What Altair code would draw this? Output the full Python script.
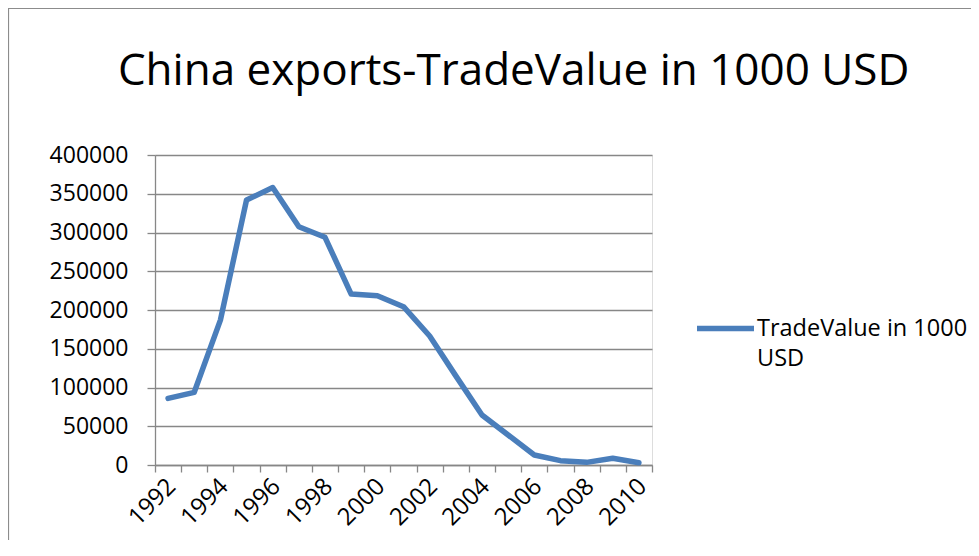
import altair as alt
import pandas as pd

years = [str(y) for y in range(1992, 2011)]
values = [86000, 93800, 187000, 342000, 358000, 307500, 293800, 220600, 218500,
          204300, 166400, 115000, 64500, 38700, 12900, 5600, 3400, 8600, 3000]
series_name = "TradeValue in 1000 USD"
y_ticks = [0, 50000, 100000, 150000, 200000, 250000, 300000, 350000, 400000]

df = pd.DataFrame({"Year": years, "Value": values, "Series": [series_name] * len(years)})

FONT = "Open Sans"
BLUE = "#4a7ebb"
GRAY = "#878787"

line = alt.Chart(df).mark_line(strokeWidth=5.5, strokeCap="round", strokeJoin="round").encode(
    x=alt.X("Year:O", sort=years,
            scale=alt.Scale(type="band", paddingInner=0, paddingOuter=0),
            axis=alt.Axis(title=None, labelAngle=-45, tickBand="extent",
                          labelExpr="toNumber(datum.label) % 2 == 0 ? datum.label : ''",
                          labelFont=FONT, labelFontSize=24, labelColor="#000000",
                          labelPadding=2, labelOffset=-5, tickSize=7, tickColor=GRAY,
                          tickWidth=1.3, domainColor=GRAY, domainWidth=1.3, grid=False,
                          labelOverlap=False)),
    y=alt.Y("Value:Q",
            scale=alt.Scale(domain=[0, 400000], nice=False),
            axis=alt.Axis(title=None, values=y_ticks, format="d",
                          labelFont=FONT, labelFontSize=23, labelColor="#000000",
                          labelPadding=19, tickSize=8, tickColor=GRAY, tickWidth=1.3,
                          domainColor=GRAY, domainWidth=1.3,
                          grid=True, gridColor=GRAY, gridWidth=1.3)),
    color=alt.Color("Series:N", scale=alt.Scale(range=[BLUE]),
                    legend=alt.Legend(title=None, orient="none", legendX=539, legendY=142,
                                      symbolType="M-1,0H1", symbolSize=3249,
                                      symbolStrokeWidth=5.5, symbolStrokeColor=BLUE,
                                      labelExpr="['TradeValue in 1000', 'USD']",
                                      labelFont=FONT, labelFontSize=23.5, labelColor="#000000",
                                      labelLimit=400, labelOffset=0)),
)

border = alt.Chart(pd.DataFrame({"a": [0]})).mark_rect(
    fill=None, stroke="#8c8c8c", strokeWidth=1.2
).encode(
    x=alt.value(-146.5), y=alt.value(-146.5), x2=alt.value(900), y2=alt.value(600)
)

chart = alt.layer(border, line).properties(
    width=497, height=310,
    title=alt.TitleParams("China exports-TradeValue in 1000 USD", font=FONT, fontSize=44,
                          fontWeight="normal", color="#000000", anchor="start",
                          dx=110, dy=86, offset=0),
    autosize=alt.AutoSizeParams(type="none"),
    padding={"left": 147, "top": 147, "right": 319, "bottom": 75},
).configure_view(stroke=None).configure(
    background="white", style={"guide-label": {"lineHeight": 30}}
)

chart.save("out.html", embed_options={"renderer": "svg", "actions": False})
